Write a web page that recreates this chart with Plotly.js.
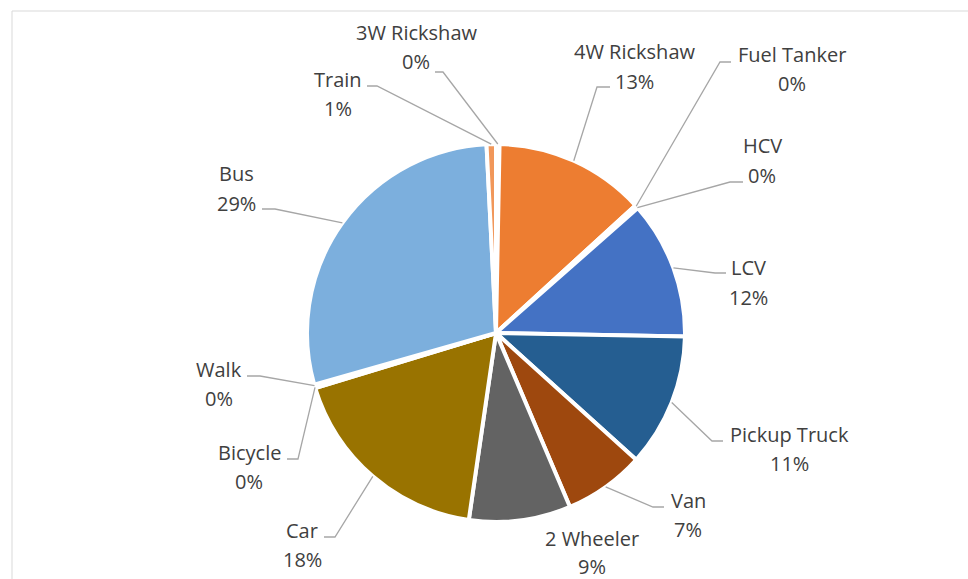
<!DOCTYPE html>
<html><head><meta charset="utf-8">
<script src="https://cdn.plot.ly/plotly-3.0.1.min.js"></script>
<style>html,body{margin:0;padding:0;background:#fff}#chart{width:968px;height:579px}</style>
</head><body><div id="chart"></div>
<script>
// ---- data ----
const categories = ["3W Rickshaw","4W Rickshaw","Fuel Tanker","HCV","LCV","Pickup Truck","Van","2 Wheeler","Car","Bicycle","Walk","Bus","Train"];
const shares = [0.3, 12.9, 0.2, 0.1, 11.8, 11.4, 6.9, 8.7, 18.0, 0.1, 0.2, 28.6, 0.8];

// ---- style ----
const sliceColors = ["#5B9BD5","#ED7D31","#A5A5A5","#FFC000","#4472C4","#255E91","#9E480E","#636363","#997300","#264478","#43682B","#7CAFDD","#F1975A"];
// label centre (pixels) of the name line, and gap to the percent line
const labelPos = [[416,33],[634,52],[792,54],[762,146],[748,268],[789,434],[688,500],[592,538],[302,530],[249,452],[219,369],[236,174],[338,79]];
const pctGap = [29,29,29,29,29,29,29,28,29,29,29,29,29];
// leader line: [startX, startY, elbowX] in pixels (null = no leader)
const leaders = [[435,72,443],[610,87,597],[731,62,720],[743,182,730],[726,273,715],[723,441,712],[664,507,653],null,[324,537,335],[287,459,298],[247,376,260],[262,209,275],[367,86,377]];

const W = 968, H = 579;
const cx = 496, cy = 333, R = 189;
const px = x => x / W;
const py = y => 1 - y / H;

const total = shares.reduce((a, b) => a + b, 0);
const annotations = [];
const shapes = [];
// chart frame
shapes.push({type:'path', xref:'paper', yref:'paper',
  path:`M ${px(12)} ${py(H+5)} L ${px(12)} ${py(11)} L ${px(W+5)} ${py(11)}`,
  line:{color:'#D9D9D9', width:1}});

let cum = 0;
categories.forEach((name, i) => {
  const mid = (cum + shares[i] / 2) / total * 2 * Math.PI;
  cum += shares[i];
  const ex = cx + R * Math.sin(mid), ey = cy - R * Math.cos(mid);
  const [lx, ly] = labelPos[i];
  const pct = Math.round(shares[i] / total * 100) + '%';
  const font = {family:'Open Sans, sans-serif', size:20, color:'#404040'};
  annotations.push({xref:'paper', yref:'paper', x:px(lx), y:py(ly), text:name, showarrow:false, xanchor:'center', yanchor:'middle', font});
  annotations.push({xref:'paper', yref:'paper', x:px(lx), y:py(ly + pctGap[i]), text:pct, showarrow:false, xanchor:'center', yanchor:'middle', font});
  const L = leaders[i];
  if (L) {
    shapes.push({type:'path', xref:'paper', yref:'paper',
      path:`M ${px(L[0])} ${py(L[1])} L ${px(L[2])} ${py(L[1])} L ${px(ex)} ${py(ey)}`,
      line:{color:'#A6A6A6', width:1.3}});
  }
});

const trace = {
  type:'pie', labels:categories, values:shares, sort:false, direction:'clockwise', rotation:0,
  marker:{colors:sliceColors, line:{color:'#FFFFFF', width:4}},
  textinfo:'none', hoverinfo:'label+percent',
  domain:{x:[px(cx - R), px(cx + R)], y:[py(cy + R), py(cy - R)]}
};

Plotly.newPlot('chart', [trace], {
  width:W, height:H, margin:{l:0, r:0, t:0, b:0},
  paper_bgcolor:'#FFFFFF', showlegend:false,
  annotations, shapes
}, {displayModeBar:false, staticPlot:true});
</script></body></html>
